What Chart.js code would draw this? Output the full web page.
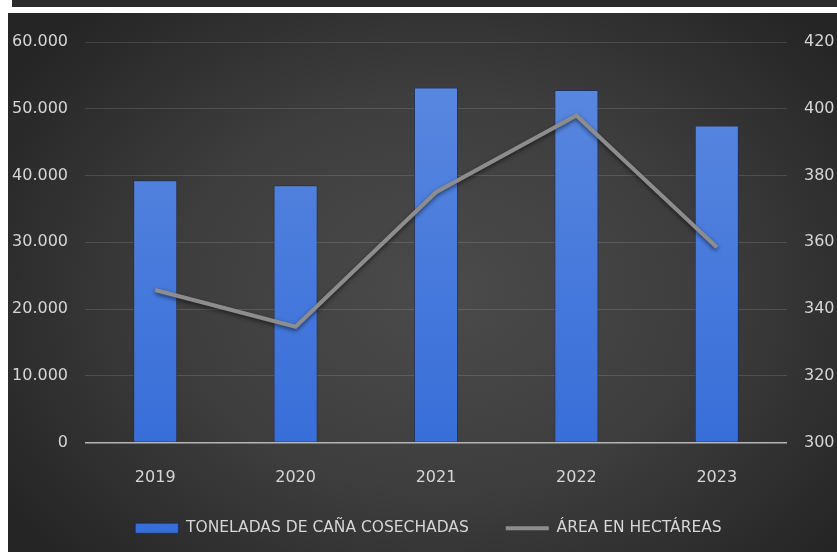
<!DOCTYPE html>
<html>
<head>
<meta charset="utf-8">
<script src="https://cdn.jsdelivr.net/npm/chart.js@4/dist/chart.umd.min.js"></script>
<style>
  body { margin: 0; background: #fff; width: 837px; height: 552px; overflow: hidden; position: relative; }
  #strip { position: absolute; left: 12px; top: 0; width: 825px; height: 7px; background: #2b2b2b; }
  #wrap {
    position: absolute; left: 8px; top: 13px; width: 829px; height: 539px;
    background: radial-gradient(ellipse 62% 72% at 52% 52%, #4b4b4b 0%, #3e3e3e 50%, #252525 100%);
  }
</style>
</head>
<body>
<div id="strip"></div>
<div id="wrap"><canvas id="chart" width="829" height="539"></canvas></div>
<script>
const years = ['2019', '2020', '2021', '2022', '2023'];
const toneladas = [39300, 38550, 53200, 52800, 47500];
const hectareas = [345.7, 334.7, 375, 398, 358.5];
const labelToneladas = 'TONELADAS DE CAÑA COSECHADAS';
const labelArea = 'ÁREA EN HECTÁREAS';

const font = 'DejaVu Sans';
const txt = '#d6d6d6';

// sombra suave bajo la línea
const lineShadow = {
  id: 'lineShadow',
  beforeDatasetDraw(chart, args) {
    if (args.meta.type !== 'line') return;
    const ctx = chart.ctx;
    ctx.save();
    ctx.shadowColor = 'rgba(0,0,0,0.55)';
    ctx.shadowBlur = 4;
    ctx.shadowOffsetY = 2;
  },
  afterDatasetDraw(chart, args) {
    if (args.meta.type !== 'line') return;
    chart.ctx.restore();
  }
};

// correr la leyenda un poco (arriba y a la izquierda del centro)
const legendShift = {
  id: 'legendShift',
  afterLayout(chart) {
    chart.legend.top -= 5;
    chart.legend.left += 12;
  }
};

function barFill(c) {
  const area = c.chart.chartArea;
  if (!area) return '#4a7de0';
  const g = c.chart.ctx.createLinearGradient(0, area.top, 0, area.bottom);
  g.addColorStop(0, '#5c8ae0');
  g.addColorStop(1, '#386ed9');
  return g;
}

new Chart(document.getElementById('chart'), {
  type: 'bar',
  data: {
    labels: years,
    datasets: [
      {
        label: labelToneladas, data: toneladas, yAxisID: 'y', order: 1,
        backgroundColor: barFill, borderColor: 'rgba(25,45,95,0.7)', borderWidth: 1,
        categoryPercentage: 1, barPercentage: 0.314, pointStyle: 'rect'
      },
      {
        type: 'line', label: labelArea, data: hectareas, yAxisID: 'y1', order: 0,
        borderColor: '#8d8d8d', backgroundColor: '#8d8d8d', borderWidth: 4,
        pointRadius: 0, tension: 0, pointStyle: 'line'
      }
    ]
  },
  options: {
    responsive: false, animation: false,
    layout: { padding: { left: 0, top: 29, right: 0, bottom: 1 } },
    plugins: {
      tooltip: { enabled: false },
      legend: {
        position: 'bottom',
        labels: {
          usePointStyle: true, pointStyleWidth: 43, boxHeight: 10, padding: 37,
          color: txt, font: { family: font, size: 15.5 },
          sort: (a, b) => a.datasetIndex - b.datasetIndex
        }
      }
    },
    scales: {
      x: {
        grid: { display: false, drawTicks: false }, border: { display: false },
        ticks: { color: txt, font: { family: font, size: 16 }, padding: 26 },
        afterFit: s => { s.height = 46; }
      },
      y: {
        position: 'left', min: 0, max: 60000,
        border: { display: false },
        grid: {
          drawTicks: false,
          color: c => c.tick.value === 0 ? '#b5b5b5' : 'rgba(255,255,255,0.13)',
          lineWidth: c => c.tick.value === 0 ? 1.6 : 1
        },
        ticks: {
          stepSize: 10000, padding: 17, color: txt, font: { family: font, size: 16 },
          callback: v => v.toLocaleString('de-DE')
        },
        afterFit: s => { s.width = 77; }
      },
      y1: {
        position: 'right', min: 300, max: 420,
        border: { display: false },
        grid: { drawOnChartArea: false, drawTicks: false },
        ticks: { stepSize: 20, padding: 17, color: txt, font: { family: font, size: 16 } },
        afterFit: s => { s.width = 50; }
      }
    }
  },
  plugins: [lineShadow, legendShift]
});
</script>
</body>
</html>
